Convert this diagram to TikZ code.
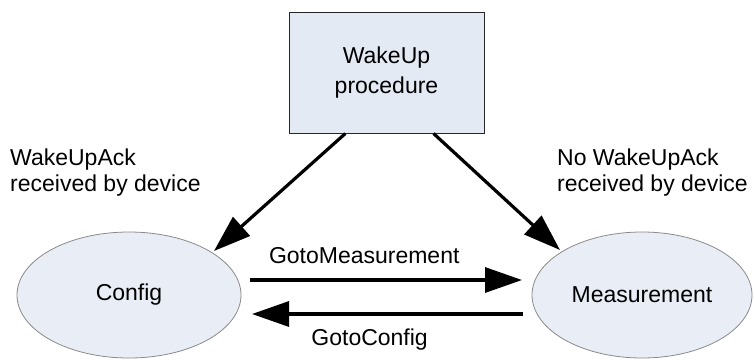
\documentclass[tikz,border=0pt]{standalone}
\usepackage{fontspec}
\setmainfont{Liberation Sans}
\usetikzlibrary{arrows.meta,shapes.geometric,calc}
\definecolor{boxfill}{HTML}{E4EAF4}
\definecolor{ellfill}{HTML}{E8EDF6}
\definecolor{ellline}{HTML}{8A8A8A}
\begin{document}
\begin{tikzpicture}[x=1pt,y=-1pt,
  lbl/.style={font=\fontsize{23}{26}\selectfont, inner sep=0pt, align=left},
  procbox/.style={draw=black!85, line width=1pt, fill=boxfill, minimum width=195pt, minimum height=121pt, inner sep=0pt, align=center, font=\fontsize{23}{30}\selectfont},
  state/.style={ellipse, draw=ellline, line width=0.8pt, fill=ellfill, inner sep=0pt, font=\fontsize{23}{26}\selectfont},
  trans/.style={line width=3.2pt, -{Triangle[length=37pt,width=25pt]}}]
\useasboundingbox (0,0) rectangle (754,359);
\node[procbox] (box) at (386.5,72.5) {WakeUp\\procedure};
\node[state, minimum width=224pt, minimum height=126pt] (config) at (129,295) {Config};
\node[state, minimum width=220pt, minimum height=126pt] (meas) at (642,295) {Measurement};
\node[lbl, anchor=west] (l1) at (10,173) {WakeUpAck\\received by device};
\node[lbl, anchor=west] (l2) at (557,173) {No WakeUpAck\\received by device};
\coordinate (b1) at ($(box.south west)!0.29!(box.south east)$);
\coordinate (b2) at ($(box.south west)!0.74!(box.south east)$);
\coordinate (t1) at (214,251);
\coordinate (t2) at (560,250);
\draw[trans] (b1) -- (t1);
\draw[trans] (b2) -- (t2);
\coordinate (gm1) at (250,280);
\coordinate (gm2) at (522,280);
\coordinate (gc1) at (523,314);
\coordinate (gc2) at (252,314);
\draw[trans] (gm1) -- (gm2) node[lbl, pos=0.42, above=15pt] (glm) {GotoMeasurement};
\draw[trans] (gc1) -- (gc2) node[lbl, pos=0.566, below=13pt] (glc) {GotoConfig};
\end{tikzpicture}
\end{document}
